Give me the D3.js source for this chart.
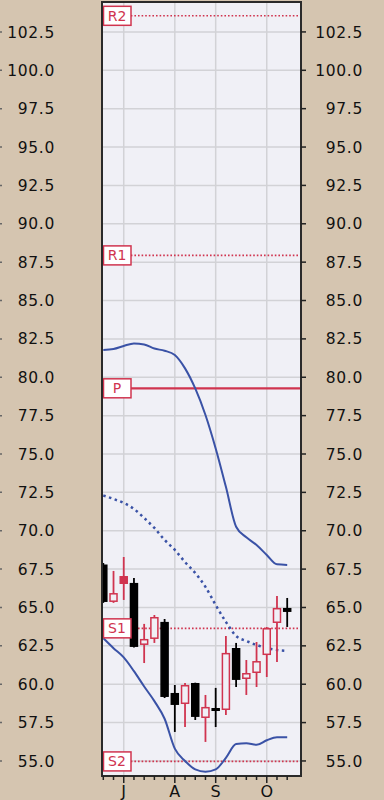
<!DOCTYPE html>
<html lang="en">
  <head>
    <meta charset="utf-8">
    <title>Weekly candles with pivots</title>
    <style>
      body { margin: 0; background: #d5c5b0; }
      svg text { font-family: "DejaVu Sans", Verdana, sans-serif; }
      .ylab { font-size: 15.5px; fill: #111; letter-spacing: 0.7px; }
      .xlab { font-size: 16px; fill: #111; }
      .grid line { stroke: #d2d2d6; stroke-width: 1.5; }
      .pivlab { font-size: 14px; fill: #d0344f; }
    </style>
  </head>
  <body>
    <svg id="chart" width="384" height="800"></svg>
<script src="https://d3js.org/d3.v7.min.js"></script>
<script>

// week start dates, one candle per week
var weeks = ["2013-06-17", "2013-06-24", "2013-07-01", "2013-07-08", "2013-07-15",
             "2013-07-22", "2013-07-29", "2013-08-05", "2013-08-12", "2013-08-19",
             "2013-08-26", "2013-09-02", "2013-09-09", "2013-09-16", "2013-09-23",
             "2013-09-30", "2013-10-07", "2013-10-14", "2013-10-21"];

var opens  = [67.8, 65.36, 67.05, 66.6, 62.56, 62.95, 64.06, 59.43, 58.71, 60.08,
              57.8, 58.45, 58.32, 62.36, 60.34, 60.73, 61.9, 63.99, 64.97];
var highs  = [67.9, 67.38, 68.29, 66.92, 63.93, 64.51, 64.25, 59.95, 60.08, 60.1,
              59.3, 59.76, 63.14, 62.69, 61.58, 62.75, 63.73, 65.75, 65.62];
var lows   = [65.3, 65.3, 65.49, 62.4, 61.38, 62.69, 59.1, 56.89, 57.21, 57.67,
              56.24, 57.21, 58.0, 59.82, 59.3, 59.82, 60.47, 61.45, 63.73];
var closes = [65.36, 65.94, 66.53, 62.43, 62.95, 64.38, 59.17, 58.65, 59.95, 57.87,
              58.52, 58.39, 62.04, 60.28, 60.73, 61.51, 63.66, 64.97, 64.71];

// bollinger bands
var upperBand = [81.78, 81.84, 82.04, 82.2, 82.14, 81.87, 81.73, 81.45, 80.58, 79.27,
                 77.54, 75.36, 72.86, 70.26, 69.57, 69.07, 68.42, 67.81, 67.77];
var midBand   = [72.3, 72.07, 71.81, 71.42, 70.83, 70.18, 69.4, 68.75, 67.96, 67.25,
                 66.34, 65.16, 64.06, 63.14, 62.82, 62.56, 62.36, 62.23, 62.17];
var lowerBand = [63.0, 62.35, 61.75, 60.85, 59.85, 58.9, 57.75, 55.8, 55.0, 54.45,
                 54.3, 54.45, 55.2, 56.1, 56.15, 56.05, 56.35, 56.55, 56.55];

// pivot levels
var pivotNames  = ["R2", "R1", "P", "S1", "S2"];
var pivotValues = [103.55, 87.94, 79.28, 63.64, 54.97];

var yTicks = d3.range(55, 102.51, 2.5);

var red = "#d0344f";
var blue = "#3a52a6";
var plotBg = "#f0f0f6";

var svg = d3.select("#chart");
var pLeft = 102, pRight = 301, pTop = 2, pBottom = 776;

var x = d3.scaleLinear().domain([0, weeks.length - 1]).range([103.3, 287.2]);
var y = d3.scaleLinear().domain([54.02, 104.45]).range([pBottom, pTop]);
var parse = d3.timeParse("%Y-%m-%d");
var dates = weeks.map(parse);

svg.append("clipPath").attr("id", "plotclip")
  .append("rect")
    .attr("x", pLeft).attr("y", pTop)
    .attr("width", pRight - pLeft).attr("height", pBottom - pTop);

svg.append("rect")
    .attr("x", pLeft).attr("y", pTop)
    .attr("width", pRight - pLeft).attr("height", pBottom - pTop)
    .attr("fill", plotBg);

// first week of each month gets a label and grid line
var monthIdx = [];
dates.forEach(function (d, i) {
  if (i > 0 && d.getMonth() != dates[i - 1].getMonth()) monthIdx.push(i);
});

var grid = svg.append("g").attr("class", "grid");
grid.selectAll("line.h")
    .data(yTicks)
    .enter().append("line")
    .attr("class", "h")
    .attr("x1", pLeft).attr("x2", pRight)
    .attr("y1", function (d) { return y(d); })
    .attr("y2", function (d) { return y(d); });
grid.selectAll("line.v")
    .data(monthIdx)
    .enter().append("line")
    .attr("class", "v")
    .attr("y1", pTop).attr("y2", pBottom)
    .attr("x1", function (d) { return x(d); })
    .attr("x2", function (d) { return x(d); });

var plot = svg.append("g").attr("clip-path", "url(#plotclip)");

// pivot lines
plot.selectAll("line.pivot")
    .data(pivotValues)
    .enter().append("line")
    .attr("class", "pivot")
    .attr("x1", pLeft).attr("x2", pRight)
    .attr("y1", function (d) { return y(d); })
    .attr("y2", function (d) { return y(d); })
    .attr("stroke", red)
    .attr("stroke-width", function (d, i) { return pivotNames[i] == "P" ? 2.2 : 1.6; })
    .attr("stroke-dasharray", function (d, i) { return pivotNames[i] == "P" ? null : "1.6,2"; });

// bands
var line = function (arr) {
  return d3.line()
    .x(function (d, i) { return x(i); })
    .y(function (d) { return y(d); })
    .curve(d3.curveMonotoneX)(arr);
};

plot.append("path").attr("d", line(upperBand))
    .attr("fill", "none").attr("stroke", blue).attr("stroke-width", 2);
plot.append("path").attr("d", line(lowerBand))
    .attr("fill", "none").attr("stroke", blue).attr("stroke-width", 2);
plot.append("path").attr("d", line(midBand))
    .attr("fill", "none").attr("stroke", blue).attr("stroke-width", 2.5)
    .attr("stroke-dasharray", "2.5,3.5");

// candles: hollow when close > open, red when close is above the previous close
var candles = weeks.map(function (w, i) {
  var prev = i > 0 ? closes[i - 1] : opens[i];
  return {i: i, o: opens[i], h: highs[i], l: lows[i], c: closes[i],
          up: closes[i] > prev, hollow: closes[i] > opens[i]};
});

var bw = 8.5;
var cg = plot.selectAll("g.candle")
    .data(candles)
    .enter().append("g")
    .attr("class", "candle");

cg.append("line")
    .attr("x1", function (d) { return x(d.i); })
    .attr("x2", function (d) { return x(d.i); })
    .attr("y1", function (d) { return y(d.h); })
    .attr("y2", function (d) { return y(d.l); })
    .attr("stroke", function (d) { return d.up ? red : "#000"; })
    .attr("stroke-width", 1.8);

cg.append("rect")
    .attr("x", function (d) { return x(d.i) - bw / 2 + 0.75; })
    .attr("width", bw - 1.5)
    .attr("y", function (d) { return y(Math.max(d.o, d.c)) + 0.75; })
    .attr("height", function (d) { return Math.max(1.5, Math.abs(y(d.o) - y(d.c)) - 1.5); })
    .attr("fill", function (d) { return d.hollow ? plotBg : (d.up ? red : "#000"); })
    .attr("stroke", function (d) { return d.up ? red : "#000"; })
    .attr("stroke-width", 1.5);

// pivot labels
var pl = svg.selectAll("g.pivlab")
    .data(pivotValues)
    .enter().append("g")
    .attr("class", "pivlab")
    .attr("transform", function (d) { return "translate(" + (pLeft + 1) + "," + y(d) + ")"; });
pl.append("rect")
    .attr("x", 0.5).attr("y", -9.5)
    .attr("width", 27.5).attr("height", 19)
    .attr("fill", "#fff")
    .attr("stroke", red).attr("stroke-width", 1.5);
pl.append("text")
    .attr("x", 14).attr("y", 5)
    .attr("text-anchor", "middle")
    .text(function (d, i) { return pivotNames[i]; });

// frame
svg.append("rect")
    .attr("x", pLeft).attr("y", pTop)
    .attr("width", pRight - pLeft).attr("height", pBottom - pTop)
    .attr("fill", "none").attr("stroke", "#2a2a2a").attr("stroke-width", 2);

// y axes, both sides
var fmt = d3.format(".1f");
svg.selectAll("text.yl")
    .data(yTicks)
    .enter().append("text")
    .attr("class", "ylab yl")
    .attr("x", 55)
    .attr("y", function (d) { return y(d); })
    .attr("dy", "0.36em")
    .attr("text-anchor", "end")
    .text(fmt);
svg.selectAll("text.yr")
    .data(yTicks)
    .enter().append("text")
    .attr("class", "ylab yr")
    .attr("x", 363)
    .attr("y", function (d) { return y(d); })
    .attr("dy", "0.36em")
    .attr("text-anchor", "end")
    .text(fmt);
svg.selectAll("line.tr")
    .data(yTicks)
    .enter().append("line")
    .attr("class", "tr")
    .attr("x1", pRight).attr("x2", pRight + 5)
    .attr("y1", function (d) { return y(d); })
    .attr("y2", function (d) { return y(d); })
    .attr("stroke", "#222").attr("stroke-width", 1.5);
svg.selectAll("line.tl")
    .data(yTicks)
    .enter().append("line")
    .attr("class", "tl")
    .attr("x1", 0).attr("x2", 2)
    .attr("y1", function (d) { return y(d); })
    .attr("y2", function (d) { return y(d); })
    .attr("stroke", "#666").attr("stroke-width", 1.5);

// x axis: tick per week, longer tick and label per month
svg.selectAll("line.tx")
    .data(candles)
    .enter().append("line")
    .attr("class", "tx")
    .attr("x1", function (d) { return x(d.i); })
    .attr("x2", function (d) { return x(d.i); })
    .attr("y1", pBottom)
    .attr("y2", function (d) { return monthIdx.indexOf(d.i) >= 0 ? pBottom + 7 : pBottom + 4; })
    .attr("stroke", "#222").attr("stroke-width", 1.5);

var monthFmt = d3.timeFormat("%b");
svg.selectAll("text.xl")
    .data(monthIdx)
    .enter().append("text")
    .attr("class", "xlab xl")
    .attr("x", function (d) { return x(d); })
    .attr("y", 797)
    .attr("text-anchor", "middle")
    .text(function (d) { return monthFmt(dates[d]).charAt(0); });

</script>
  </body>
</html>
